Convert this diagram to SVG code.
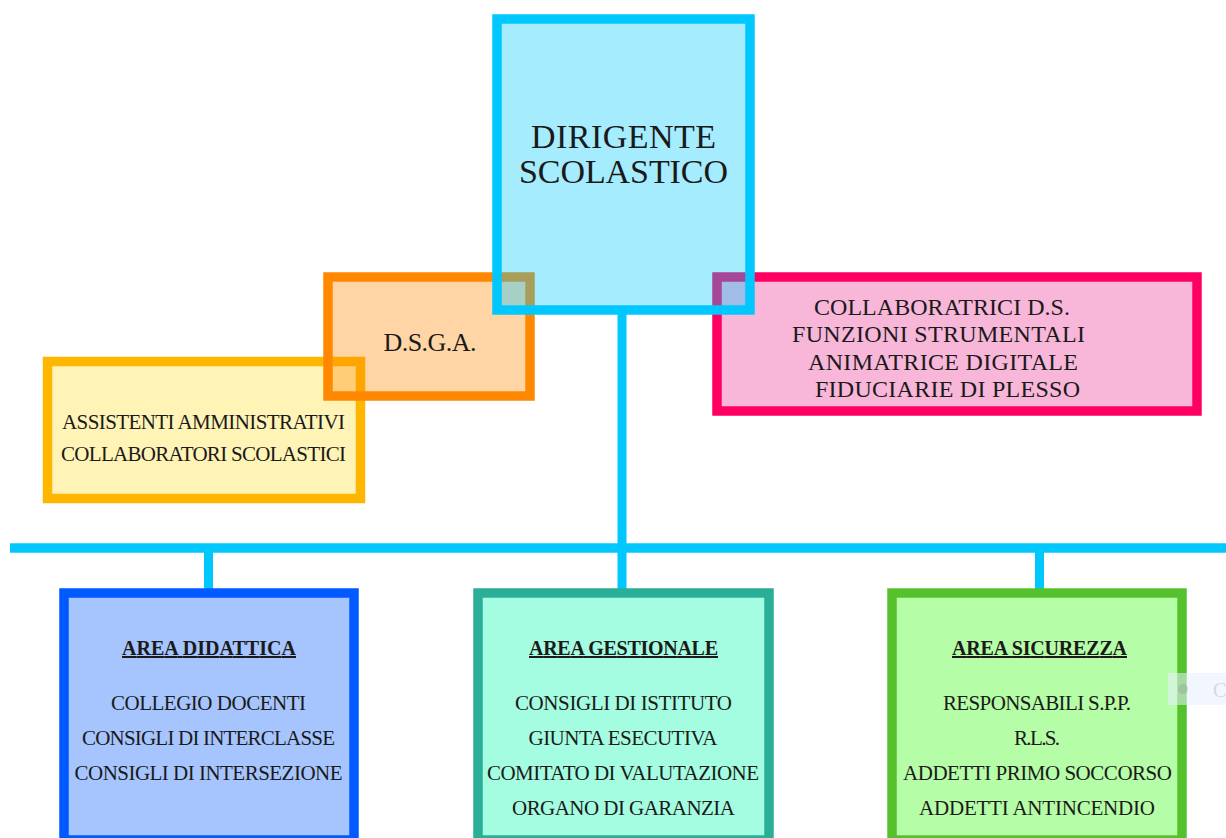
<svg xmlns="http://www.w3.org/2000/svg" width="1226" height="838" viewBox="0 0 1226 838">
<style>
text{font-family:"Liberation Serif","Times New Roman",serif;fill:#1a1a1a;}
.box{stroke-width:9.5;}
.c{text-anchor:middle;}
.t20{font-size:21px;}
.title{font-size:20px;font-weight:bold;text-decoration:underline;text-anchor:middle;}
.conn{stroke:#00c8ff;fill:none;}
</style>
<rect width="1226" height="838" fill="#ffffff"/>
<g id="connectors">
<line class="conn" x1="622" y1="312" x2="622" y2="592" stroke-width="9"/>
<line class="conn" x1="10" y1="548" x2="1226" y2="548" stroke-width="9.5"/>
<line class="conn" x1="208.5" y1="548" x2="208.5" y2="592" stroke-width="9"/>
<line class="conn" x1="1039.5" y1="548" x2="1039.5" y2="592" stroke-width="9"/>
</g>
<g id="assistenti">
<rect class="box" x="47.5" y="361.5" width="313" height="137" fill="#fff4b6" stroke="#ffb600"/>
<text class="c t20" x="203.5" y="429" textLength="283">ASSISTENTI AMMINISTRATIVI</text>
<text class="c t20" x="203.5" y="461" textLength="285">COLLABORATORI SCOLASTICI</text>
</g>
<g id="dsga">
<rect class="box" x="328" y="277" width="202" height="119" fill="rgba(255,136,0,0.35)" stroke="#ff8800"/>
<text class="c" x="430" y="351" font-size="26" textLength="93">D.S.G.A.</text>
</g>
<g id="collaboratrici">
<rect class="box" x="717" y="277" width="480" height="134" fill="#f8b6d9" stroke="#ff0062"/>
<text x="814" y="315" font-size="24" textLength="256">COLLABORATRICI D.S.</text>
<text x="792" y="342" font-size="24" textLength="293">FUNZIONI STRUMENTALI</text>
<text x="808" y="370" font-size="24" textLength="270">ANIMATRICE DIGITALE</text>
<text x="815" y="397" font-size="24" textLength="265">FIDUCIARIE DI PLESSO</text>
</g>
<g id="dirigente">
<rect class="box" x="497" y="19" width="253" height="291" fill="rgba(0,200,255,0.35)" stroke="#00c8ff"/>
<text class="c" x="623.5" y="148" font-size="34" textLength="185">DIRIGENTE</text>
<text class="c" x="623.5" y="183" font-size="34" textLength="209">SCOLASTICO</text>
</g>
<g id="area-didattica">
<rect class="box" x="64" y="593" width="290" height="247" fill="#a6c5fe" stroke="#005aff"/>
<text class="title" x="209" y="655" textLength="174">AREA DIDATTICA</text>
<text class="c t20" x="208.5" y="710" textLength="195">COLLEGIO DOCENTI</text>
<text class="c t20" x="208.5" y="745" textLength="253">CONSIGLI DI INTERCLASSE</text>
<text class="c t20" x="208.5" y="780" textLength="268">CONSIGLI DI INTERSEZIONE</text>
</g>
<g id="area-gestionale">
<rect class="box" x="478" y="593" width="291" height="247" fill="#a4fde0" stroke="#2aae98"/>
<text class="title" x="623.5" y="655" textLength="189">AREA GESTIONALE</text>
<text class="c t20" x="623.5" y="710" textLength="217">CONSIGLI DI ISTITUTO</text>
<text class="c t20" x="623" y="745" textLength="189">GIUNTA ESECUTIVA</text>
<text class="c t20" x="623" y="780" textLength="272">COMITATO DI VALUTAZIONE</text>
<text class="c t20" x="623.5" y="815" textLength="223">ORGANO DI GARANZIA</text>
</g>
<g id="area-sicurezza">
<rect class="box" x="892" y="593" width="290" height="247" fill="#b5fda6" stroke="#55c22d"/>
<text class="title" x="1039.5" y="655" textLength="175">AREA SICUREZZA</text>
<text class="c t20" x="1037" y="710" textLength="188">RESPONSABILI S.P.P.</text>
<text class="c t20" x="1037" y="745" textLength="46">R.L.S.</text>
<text class="c t20" x="1037.5" y="780" textLength="269">ADDETTI PRIMO SOCCORSO</text>
<text class="c t20" x="1037" y="815" textLength="236">ADDETTI ANTINCENDIO</text>
</g>
<g id="overlay">
<rect x="1168" y="673" width="58" height="32" fill="#e8f0ff" opacity="0.55"/>
<circle cx="1183" cy="689" r="5" fill="#8a8f96" opacity="0.3"/>
<text x="1213" y="697" font-size="20" style="fill:#d8d8d8">C</text>
</g>
</svg>
